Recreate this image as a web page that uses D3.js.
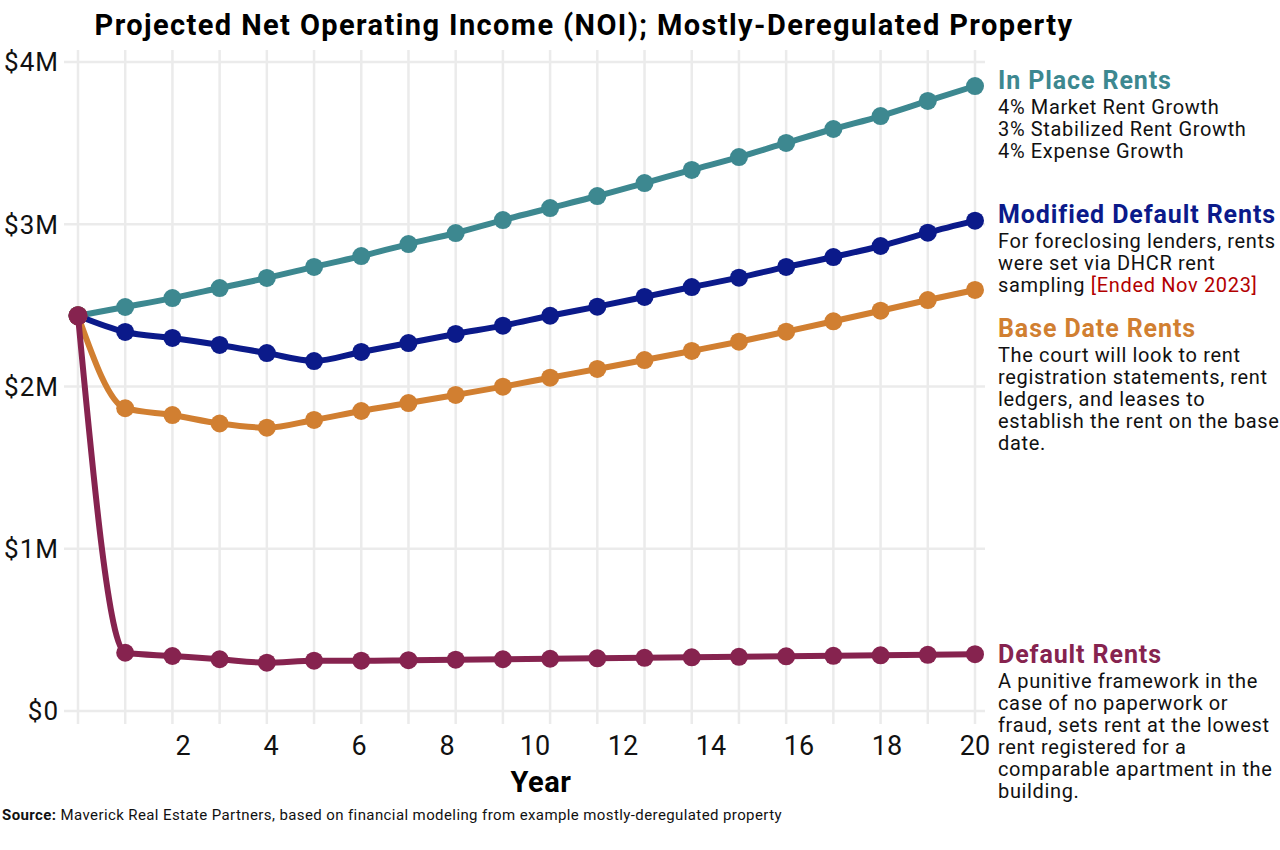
<!DOCTYPE html>
<html>
<head>
<meta charset="utf-8">
<script src="https://cdn.jsdelivr.net/npm/d3@7"></script>
<style>
  body { margin: 0; background: #fff; }
  svg { font-family: Roboto, "Noto Sans", sans-serif; }
</style>
</head>
<body>
<svg width="1280" height="850"></svg>
<script>
// data, $ millions, period 0..19
const periods = d3.range(0, 20);
const inPlace = [2.436, 2.490, 2.545, 2.607, 2.669, 2.737, 2.804, 2.878, 2.946, 3.026, 3.100, 3.174, 3.254, 3.335, 3.414, 3.501, 3.587, 3.667, 3.760, 3.852];
const modifiedDefault = [2.436, 2.336, 2.299, 2.256, 2.206, 2.157, 2.213, 2.268, 2.324, 2.375, 2.436, 2.492, 2.552, 2.613, 2.671, 2.737, 2.798, 2.866, 2.948, 3.022];
const baseDate = [2.436, 1.866, 1.824, 1.772, 1.746, 1.794, 1.849, 1.898, 1.948, 1.999, 2.054, 2.108, 2.163, 2.219, 2.276, 2.338, 2.402, 2.467, 2.533, 2.595];
const defaultRents = [2.436, 0.359, 0.339, 0.319, 0.298, 0.310, 0.310, 0.313, 0.316, 0.319, 0.322, 0.325, 0.328, 0.331, 0.334, 0.337, 0.340, 0.343, 0.346, 0.350];
const yTicks = [0, 1, 2, 3, 4];
const yearLabels = [2, 4, 6, 8, 10, 12, 14, 16, 18, 20];

const series = [
  { name: 'In Place Rents', values: inPlace, color: '#3d8890',
    notes: ['4% Market Rent Growth', '3% Stabilized Rent Growth', '4% Expense Growth'], y: 80 },
  { name: 'Modified Default Rents', values: modifiedDefault, color: '#0b1a8a',
    notes: ['For foreclosing lenders, rents', 'were set via DHCR rent', 'sampling |[Ended Nov 2023]'], y: 214 },
  { name: 'Base Date Rents', values: baseDate, color: '#d17f31',
    notes: ['The court will look to rent', 'registration statements, rent', 'ledgers, and leases to', 'establish the rent on the base', 'date.'], y: 328 },
  { name: 'Default Rents', values: defaultRents, color: '#86234f',
    notes: ['A punitive framework in the', 'case of no paperwork or', 'fraud, sets rent at the lowest', 'rent registered for a', 'comparable apartment in the', 'building.'], y: 654 }
];

const svg = d3.select('svg');

const x = d3.scaleLinear().domain([0, 19]).range([78, 975]);
const xLab = d3.scaleLinear().domain([0, 20]).range([95, 975]);
const y = d3.scaleLinear().domain([0, 4]).range([711, 62]);

// grid
const grid = svg.append('g').attr('stroke', '#ebebeb').attr('stroke-width', 2.5);
grid.selectAll('.vg').data(periods).enter().append('line')
  .attr('x1', d => x(d)).attr('x2', d => x(d))
  .attr('y1', 50).attr('y2', 724);
grid.selectAll('.hg').data(yTicks).enter().append('line')
  .attr('x1', 64).attr('x2', 985)
  .attr('y1', d => y(d)).attr('y2', d => y(d));

// y axis labels
svg.append('g').selectAll('text').data(yTicks).enter().append('text')
  .attr('x', 59).attr('y', d => y(d)).attr('dy', '0.36em')
  .attr('text-anchor', 'end').attr('font-size', 26).attr('letter-spacing', 1).attr('fill', '#111')
  .text(d => '$' + d + (d === 0 ? '' : 'M'));

// x axis labels
svg.append('g').selectAll('text').data(yearLabels).enter().append('text')
  .attr('x', d => xLab(d)).attr('y', 745).attr('dy', '0.36em')
  .attr('text-anchor', 'middle').attr('font-size', 27).attr('fill', '#111')
  .text(d => d);

svg.append('text')
  .attr('x', 541).attr('y', 782).attr('dy', '0.36em')
  .attr('text-anchor', 'middle').attr('font-size', 29).attr('font-weight', 'bold')
  .attr('letter-spacing', 0.5)
  .text('Year');

// title
svg.append('text')
  .attr('x', 584).attr('y', 25).attr('dy', '0.36em')
  .attr('text-anchor', 'middle').attr('font-size', 29).attr('font-weight', 'bold')
  .attr('letter-spacing', 1.4)
  .text('Projected Net Operating Income (NOI); Mostly-Deregulated Property');

// lines and points
const line = d3.line()
  .x((d, i) => x(periods[i]))
  .y(d => y(d))
  .curve(d3.curveMonotoneX);

series.forEach(s => {
  const g = svg.append('g');
  g.append('path')
    .attr('d', line(s.values))
    .attr('fill', 'none').attr('stroke', s.color).attr('stroke-width', 6)
    .attr('stroke-linejoin', 'round');
  g.selectAll('circle').data(s.values).enter().append('circle')
    .attr('cx', (d, i) => x(periods[i]))
    .attr('cy', d => y(d))
    .attr('r', (d, i) => i === 0 ? 9.5 : 9)
    .attr('fill', s.color);
});

// annotations
series.forEach(s => {
  const g = svg.append('g').attr('transform', `translate(998, ${s.y})`);
  g.append('text').attr('y', 0).attr('dy', '0.36em')
    .attr('font-size', 25).attr('font-weight', 'bold').attr('fill', s.color)
    .attr('letter-spacing', 0.9)
    .text(s.name);
  s.notes.forEach((n, i) => {
    const t = g.append('text').attr('y', 27 + i * 22).attr('dy', '0.36em')
      .attr('font-size', 20).attr('letter-spacing', 0.65).attr('fill', '#111');
    const parts = n.split('|');
    t.append('tspan').text(parts[0]);
    if (parts[1]) t.append('tspan').attr('fill', '#b30000').text(parts[1]);
  });
});

// source
const src = svg.append('text').attr('x', 2).attr('y', 815).attr('dy', '0.36em')
  .attr('font-size', 15).attr('letter-spacing', 0.4).attr('fill', '#111');
src.append('tspan').attr('font-weight', 'bold').text('Source: ');
src.append('tspan').text('Maverick Real Estate Partners, based on financial modeling from example mostly-deregulated property');
</script>
</body>
</html>
